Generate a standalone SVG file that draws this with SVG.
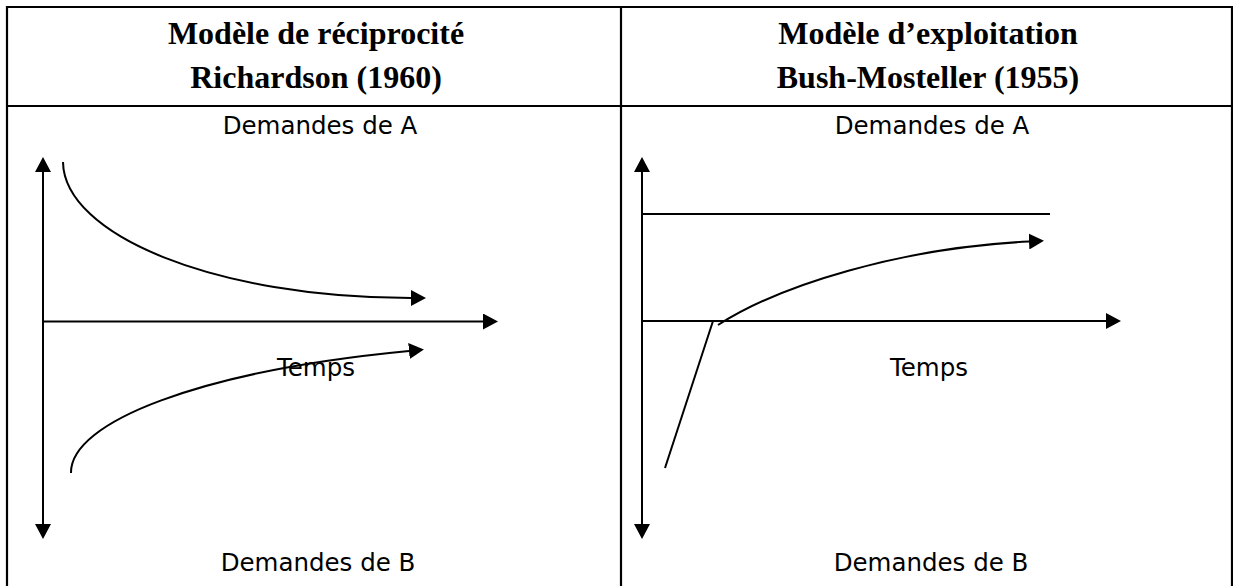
<svg xmlns="http://www.w3.org/2000/svg" width="1233" height="586" viewBox="0 0 1233 586">
<style>
.hdr{font-family:"Liberation Serif","Times New Roman",serif;font-weight:bold;font-size:32px;fill:#000;text-anchor:middle}
.lbl{font-family:"DejaVu Sans",Verdana,sans-serif;font-size:24.5px;fill:#000;text-anchor:middle}
.frame{stroke:#000;stroke-width:2.2;fill:none}
.ln{stroke:#000;stroke-width:2;fill:none}
</style>
<defs>
<marker id="ah" viewBox="0 0 15 16" markerWidth="15" markerHeight="16" refX="0" refY="8" orient="auto-start-reverse" markerUnits="userSpaceOnUse">
<path d="M0,0 L15,8 L0,16 z" fill="#000"/>
</marker>
</defs>
<g id="table">
<line class="frame" x1="6" y1="7" x2="1233" y2="7"/>
<line class="frame" x1="7" y1="6" x2="7" y2="586"/>
<line class="frame" x1="621" y1="6" x2="621" y2="586"/>
<line class="frame" x1="1232" y1="6" x2="1232" y2="586"/>
<line class="frame" x1="6" y1="106" x2="1233" y2="106"/>
</g>
<g id="header-left">
<text class="hdr" x="316" y="44">Modèle de réciprocité</text>
<text class="hdr" x="316" y="88">Richardson (1960)</text>
</g>
<g id="header-right">
<text class="hdr" x="928" y="44">Modèle d’exploitation</text>
<text class="hdr" x="928" y="88">Bush-Mosteller (1955)</text>
</g>
<g id="labels-left">
<text class="lbl" x="320" y="134">Demandes de A</text>
<text class="lbl" x="316" y="376">Temps</text>
<text class="lbl" x="318" y="571">Demandes de B</text>
</g>
<g id="labels-right">
<text class="lbl" x="932" y="134">Demandes de A</text>
<text class="lbl" x="929" y="376">Temps</text>
<text class="lbl" x="931" y="571">Demandes de B</text>
</g>
<g id="connectors">
<line class="ln" x1="43" y1="172" x2="43" y2="524" marker-start="url(#ah)" marker-end="url(#ah)"/>
<line class="ln" x1="43" y1="321.5" x2="483" y2="321.5" marker-end="url(#ah)"/>
<path class="ln" d="M63,162 C 64,235 215,298 411,298" marker-end="url(#ah)"/>
<path class="ln" d="M71,473 C 70,422 200,371 409,351" marker-end="url(#ah)"/>
<line class="ln" x1="642" y1="172" x2="642" y2="524" marker-start="url(#ah)" marker-end="url(#ah)"/>
<line class="ln" x1="642" y1="321" x2="1106" y2="321" marker-end="url(#ah)"/>
<line class="ln" x1="642" y1="214" x2="1050" y2="214"/>
<path class="ln" d="M718,325 C 780,285 900,248 1029,241.5" marker-end="url(#ah)"/>
<line class="ln" x1="665" y1="468" x2="713" y2="321"/>
</g>
</svg>
